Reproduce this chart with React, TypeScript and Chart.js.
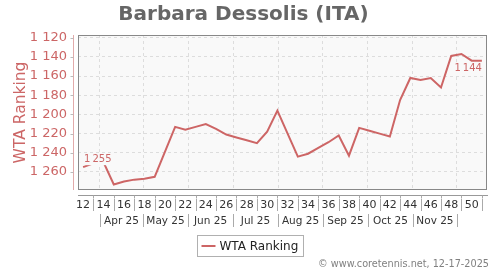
import React, { useEffect, useRef } from "react";
import { Chart, registerables } from "chart.js";

Chart.register(...registerables);

const TITLE = "Barbara Dessolis (ITA)";
const SERIES_LABEL = "WTA Ranking";
const FOOTER = "© www.coretennis.net, 12-17-2025";

const weeks = [
  12, 13, 14, 15, 16, 17, 18, 19, 20, 21, 22, 23, 24, 25, 26, 27, 28, 29, 30, 31,
  32, 33, 34, 35, 36, 37, 38, 39, 40, 41, 42, 43, 44, 45, 46, 47, 48, 49, 50, 51,
];
const ranking = [
  1255, 1251, 1250, 1273, 1270, 1268, 1267, 1265, 1239, 1213, 1216, 1213, 1210, 1215, 1221, 1224, 1227, 1230, 1218, 1196,
  1220, 1244, 1241, 1235, 1229, 1222, 1243, 1214, 1217, 1220, 1223, 1185, 1162, 1164, 1162, 1172, 1139, 1137, 1144, 1144,
];
const weekTickValues = [12, 14, 16, 18, 20, 22, 24, 26, 28, 30, 32, 34, 36, 38, 40, 42, 44, 46, 48, 50];
const weekSeparators = [13, 15, 17, 19, 21, 23, 25, 27, 29, 31, 33, 35, 37, 39, 41, 43, 45, 47, 49, 51];
const monthLabels = ["Apr 25", "May 25", "Jun 25", "Jul 25", "Aug 25", "Sep 25", "Oct 25", "Nov 25"];
const monthBoundaries = [13.65, 17.86, 22.26, 26.66, 31.06, 35.46, 39.86, 44.26, 48.56];
const yTickValues = [1120, 1140, 1160, 1180, 1200, 1220, 1240, 1260];
const xRange = [11.5, 51.5];
const yRange = [1117.2, 1278.8];

const FONT = "'DejaVu Sans', sans-serif";
const RED = "#cc6666";
const LINE = "#cd6565";
const PLOT_BG = "#f9f9f9";

const fmt = (v: number) => `${Math.floor(v / 1000)} ${String(Math.round(v) % 1000).padStart(3, "0")}`;
const fmtNarrow = (v: number) => `${Math.floor(v / 1000)}\u2009${String(Math.round(v) % 1000).padStart(3, "0")}`;

const decorations = {
  id: "decorations",
  beforeDraw(chart: any) {
    const { ctx, chartArea: a } = chart;
    ctx.save();
    ctx.fillStyle = "#ffffff";
    ctx.fillRect(0, 0, chart.width, chart.height);
    ctx.fillStyle = PLOT_BG;
    ctx.fillRect(a.left, a.top, a.right - a.left, a.bottom - a.top);
    ctx.restore();
  },
  afterDraw(chart: any) {
    const { ctx, chartArea: a } = chart;
    const xs = chart.scales.x;
    const ys = chart.scales.y;
    ctx.save();

    // plot border
    ctx.strokeStyle = "#888888";
    ctx.lineWidth = 1;
    ctx.strokeRect(a.left + 0.5, a.top + 0.5, a.right - a.left - 1, a.bottom - a.top - 1);

    // y axis line and ticks
    const yAxisX = a.left - 4.5;
    ctx.strokeStyle = "#e2aaaa";
    ctx.beginPath();
    ctx.moveTo(yAxisX, a.top);
    ctx.lineTo(yAxisX, a.bottom);
    ctx.stroke();
    ctx.strokeStyle = "#bbbbbb";
    yTickValues.forEach((v) => {
      const py = Math.round(ys.getPixelForValue(v)) + 0.5;
      ctx.beginPath();
      ctx.moveTo(yAxisX - 3, py);
      ctx.lineTo(yAxisX, py);
      ctx.stroke();
    });

    // x axis line
    const axisY = a.bottom + 5.5;
    ctx.strokeStyle = "#999999";
    ctx.beginPath();
    ctx.moveTo(a.left, axisY);
    ctx.lineTo(a.right + 1, axisY);
    ctx.stroke();
    ctx.strokeStyle = "#aaaaaa";
    weekSeparators.forEach((w) => {
      const px = Math.round(xs.getPixelForValue(w)) + 0.5;
      ctx.beginPath();
      ctx.moveTo(px, axisY);
      ctx.lineTo(px, axisY + 3);
      ctx.stroke();
      ctx.beginPath();
      ctx.moveTo(px, a.bottom + 9);
      ctx.lineTo(px, a.bottom + 21);
      ctx.stroke();
    });
    // week labels
    ctx.fillStyle = "#333333";
    ctx.font = `11px ${FONT}`;
    ctx.textAlign = "center";
    ctx.textBaseline = "middle";
    weekTickValues.forEach((w) => {
      ctx.fillText(String(w), xs.getPixelForValue(w), a.bottom + 15);
    });
    // month separators and labels
    monthBoundaries.forEach((m) => {
      const px = Math.round(xs.getPixelForValue(m)) + 0.5;
      ctx.beginPath();
      ctx.moveTo(px, a.bottom + 24);
      ctx.lineTo(px, a.bottom + 37);
      ctx.stroke();
    });
    ctx.font = `10.5px ${FONT}`;
    monthLabels.forEach((lab, i) => {
      const cx = (xs.getPixelForValue(monthBoundaries[i]) + xs.getPixelForValue(monthBoundaries[i + 1])) / 2;
      ctx.fillText(lab, cx, a.bottom + 31);
    });

    // point labels (first and last)
    ctx.font = `10px ${FONT}`;
    const drawLabel = (i: number, align: "left" | "right", dy: number) => {
      const px = xs.getPixelForValue(weeks[i]);
      const py = ys.getPixelForValue(ranking[i]);
      const text = fmtNarrow(ranking[i]);
      const w = ctx.measureText(text).width;
      const tx = align === "left" ? px + 1 : px - w;
      const ty = py + dy;
      ctx.fillStyle = PLOT_BG;
      ctx.fillRect(tx - 1, ty - 6, w + 2, 12);
      ctx.fillStyle = RED;
      ctx.textAlign = "left";
      ctx.fillText(text, tx, ty);
    };
    drawLabel(0, "left", -8);
    drawLabel(ranking.length - 1, "right", 8);

    // legend
    const lx = 197.5, ly = 235.5, lw = 106, lh = 21;
    ctx.fillStyle = "#ffffff";
    ctx.fillRect(lx, ly, lw, lh);
    ctx.strokeStyle = "#b0b0b0";
    ctx.strokeRect(lx, ly, lw, lh);
    ctx.strokeStyle = LINE;
    ctx.lineWidth = 2;
    ctx.beginPath();
    ctx.moveTo(lx + 4, ly + 10.5);
    ctx.lineTo(lx + 18, ly + 10.5);
    ctx.stroke();
    ctx.fillStyle = "#222222";
    ctx.font = `12px ${FONT}`;
    ctx.textAlign = "left";
    ctx.fillText(chart.data.datasets[0].label, lx + 22, ly + 11);

    // footer
    ctx.fillStyle = "#808080";
    ctx.font = `9.7px ${FONT}`;
    ctx.textAlign = "right";
    ctx.fillText(FOOTER, 489, 264);

    ctx.restore();
  },
};

export default function App() {
  const ref = useRef<HTMLCanvasElement | null>(null);

  useEffect(() => {
    document.body.style.margin = "0";
    if (!ref.current) return;
    const chart = new Chart(ref.current, {
      type: "line",
      data: {
        datasets: [
          {
            label: SERIES_LABEL,
            data: weeks.map((w, i) => ({ x: w, y: ranking[i] })),
            borderColor: LINE,
            backgroundColor: LINE,
            borderWidth: 2,
            pointRadius: 0,
            tension: 0,
            fill: false,
          },
        ],
      },
      options: {
        responsive: false,
        animation: false,
        events: [],
        layout: { padding: { left: 0, right: 13, top: 0, bottom: 0 } },
        plugins: {
          legend: { display: false },
          tooltip: { enabled: false },
          title: {
            display: true,
            text: TITLE,
            color: "#666666",
            font: { family: FONT, size: 20, weight: "bold", lineHeight: 1.2 },
            padding: { top: 3, bottom: 8 },
          },
        },
        scales: {
          x: {
            type: "linear",
            min: xRange[0],
            max: xRange[1],
            afterBuildTicks: (s: any) => {
              s.ticks = monthBoundaries.map((v) => ({ value: v }));
            },
            afterFit: (s: any) => {
              s.height = 80;
            },
            ticks: { display: false },
            grid: { color: "#dddddd", drawTicks: false, lineWidth: 1 },
            border: { display: false, dash: [3, 3] },
          },
          y: {
            type: "linear",
            reverse: true,
            min: yRange[0],
            max: yRange[1],
            afterBuildTicks: (s: any) => {
              s.ticks = yTickValues.map((v) => ({ value: v }));
            },
            afterFit: (s: any) => {
              s.width = 78;
            },
            ticks: {
              color: RED,
              font: { family: FONT, size: 13 },
              padding: 11,
              callback: (v: any) => fmt(Number(v)),
            },
            grid: { color: "#dddddd", drawTicks: false, lineWidth: 1 },
            border: { display: false, dash: [3, 3] },
            title: {
              display: true,
              text: SERIES_LABEL,
              color: RED,
              font: { family: FONT, size: 15.5 },
              padding: { top: 11.5, bottom: 0 },
            },
          },
        },
      },
      plugins: [decorations],
    });
    return () => chart.destroy();
  }, []);

  return (
    <div style={{ width: 500, height: 270 }}>
      <canvas ref={ref} width={500} height={270} style={{ display: "block", width: 500, height: 270 }} />
    </div>
  );
}
